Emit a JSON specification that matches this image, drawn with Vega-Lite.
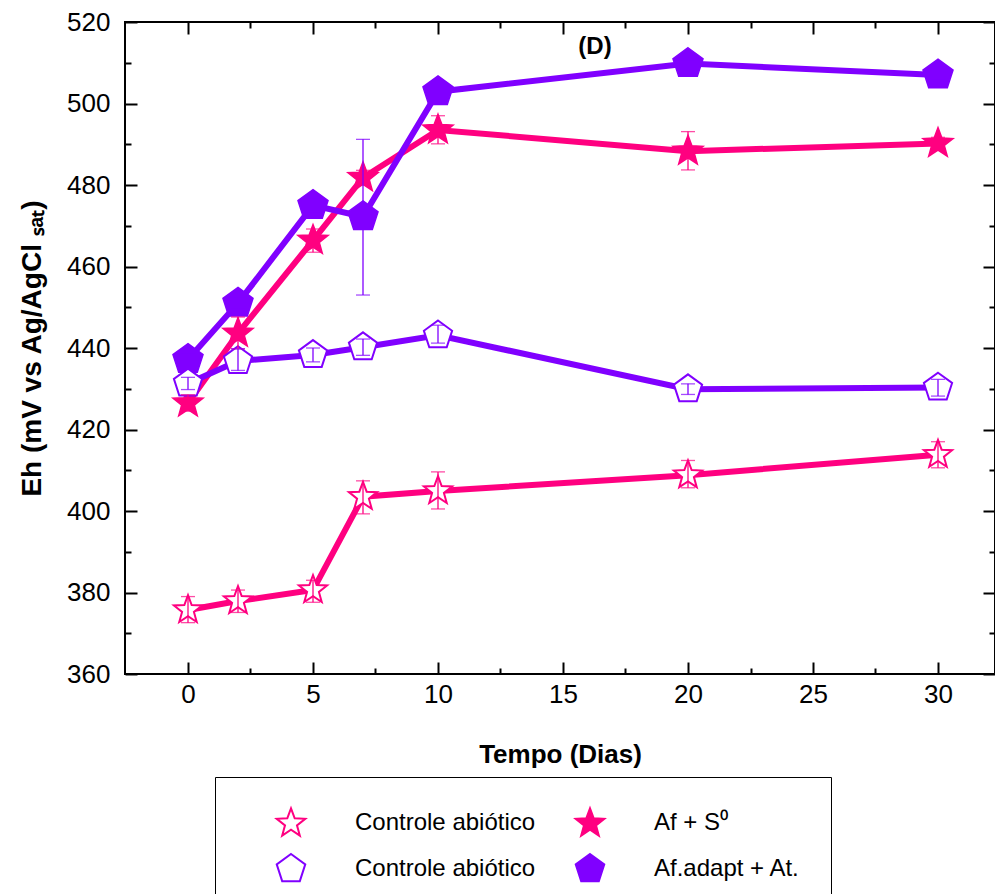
{
  "$schema": "https://vega.github.io/schema/vega-lite/v6.json",
  "width": 870,
  "height": 652,
  "autosize": {"type": "none"},
  "padding": {"left": 125, "top": 22, "right": 0, "bottom": 220},
  "title": {"text": "(D)", "fontSize": 24, "fontWeight": "bold", "font": "Liberation Sans", "anchor": "middle", "dx": 35, "offset": -50, "color": "black"},
  "config": {
    "font": "Liberation Sans",
    "view": {"stroke": "black", "strokeWidth": 2},
    "axis": {
      "domain": false,
      "grid": false,
      "tickColor": "black",
      "tickWidth": 2,
      "labelColor": "black",
      "labelFontSize": 26,
      "labelFont": "Liberation Sans",
      "titleColor": "black",
      "titleFontSize": 26,
      "titleFontWeight": "bold",
      "titleFont": "Liberation Sans"
    },
    "legend": {
      "orient": "none",
      "direction": "horizontal",
      "legendX": 90,
      "legendY": 755,
      "columns": 2,
      "labelFontSize": 24,
      "labelFont": "Liberation Sans",
      "labelColor": "black",
      "symbolSize": 900,
      "symbolStrokeWidth": 2,
      "symbolOffset": 30,
      "labelOffset": 48,
      "strokeColor": "black",
      "padding": 30,
      "rowPadding": 10,
      "columnPadding": 8,
      "labelLimit": 400
    }
  },
  "data": {
    "values": [
      {"t": 0, "s": "A", "eh": 375.7, "lo": 372.6, "hi": 379.0},
      {"t": 2, "s": "A", "eh": 377.9, "lo": 375.1, "hi": 380.6},
      {"t": 5, "s": "A", "eh": 380.6, "lo": 377.6, "hi": 383.0},
      {"t": 7, "s": "A", "eh": 403.5, "lo": 399.3, "hi": 407.4},
      {"t": 10, "s": "A", "eh": 404.9, "lo": 400.5, "hi": 409.6},
      {"t": 20, "s": "A", "eh": 408.8, "lo": 405.7, "hi": 412.4},
      {"t": 30, "s": "A", "eh": 413.8, "lo": 410.6, "hi": 417.0},
      {"t": 0, "s": "B", "eh": 426.5, "lo": 424.5, "hi": 428.5},
      {"t": 2, "s": "B", "eh": 443.6, "lo": 439.8, "hi": 447.6},
      {"t": 5, "s": "B", "eh": 466.4, "lo": 463.5, "hi": 469.2},
      {"t": 7, "s": "B", "eh": 481.8, "lo": 480.0, "hi": 483.6},
      {"t": 10, "s": "B", "eh": 493.5, "lo": 490.1, "hi": 497.0},
      {"t": 20, "s": "B", "eh": 488.3, "lo": 483.7, "hi": 493.1},
      {"t": 30, "s": "B", "eh": 490.2, "lo": 488.7, "hi": 491.7},
      {"t": 0, "s": "C", "eh": 431.3, "lo": 429.8, "hi": 432.8},
      {"t": 2, "s": "C", "eh": 436.8, "lo": 434.5, "hi": 439.8},
      {"t": 5, "s": "C", "eh": 438.3, "lo": 436.6, "hi": 440.0},
      {"t": 7, "s": "C", "eh": 440.2, "lo": 438.2, "hi": 442.2},
      {"t": 10, "s": "C", "eh": 443.1, "lo": 441.2, "hi": 445.6},
      {"t": 20, "s": "C", "eh": 429.9, "lo": 428.6, "hi": 431.2},
      {"t": 30, "s": "C", "eh": 430.3, "lo": 428.2, "hi": 432.3},
      {"t": 0, "s": "D", "eh": 437.2, "lo": 436.0, "hi": 438.4},
      {"t": 2, "s": "D", "eh": 451.0, "lo": 449.5, "hi": 452.5},
      {"t": 5, "s": "D", "eh": 475.0, "lo": 473.5, "hi": 476.5},
      {"t": 7, "s": "D", "eh": 472.2, "lo": 453.0, "hi": 491.2},
      {"t": 10, "s": "D", "eh": 502.9, "lo": 501.8, "hi": 504.0},
      {"t": 20, "s": "D", "eh": 509.8, "lo": 508.8, "hi": 510.8},
      {"t": 30, "s": "D", "eh": 507.0, "lo": 506.0, "hi": 508.0}
    ]
  },
  "resolve": {"axis": {"x": "independent", "y": "independent"}},
  "layer": [
    {
      "mark": {"type": "line", "strokeWidth": 6},
      "encoding": {
        "x": {"field": "t", "type": "quantitative", "scale": {"domain": [-2.52, 32.28], "nice": false, "zero": false},
              "axis": {"orient": "bottom", "values": [0, 5, 10, 15, 20, 25, 30], "tickSize": -12, "labelPadding": 19, "title": "Tempo (Dias)", "titlePadding": 34}},
        "y": {"field": "eh", "type": "quantitative", "scale": {"domain": [360, 520], "nice": false, "zero": false},
              "axis": {"orient": "left", "values": [360, 380, 400, 420, 440, 460, 480, 500, 520], "tickSize": -12, "labelPadding": 27, "title": "Eh (mV vs Ag/AgCl ₛₐₜ)", "titlePadding": 20, "titleFontSize": 28}},
        "stroke": {"field": "s", "type": "nominal", "scale": {"domain": ["A", "B", "C", "D"], "range": ["#ff0080", "#ff0080", "#8000ff", "#8000ff"]},
                   "legend": {"title": null,
                              "labelExpr": "{'A': 'Controle abiótico', 'B': 'Af + S⁰', 'C': 'Controle abiótico', 'D': 'Af.adapt + At.'}[datum.label]"}}
      }
    },
    {
      "transform": [{"filter": "datum.s === 'B' || datum.s === 'D'"}],
      "mark": {"type": "point", "size": 1000, "strokeWidth": 1.5, "opacity": 1},
      "encoding": {
        "x": {"field": "t", "type": "quantitative",
              "axis": {"orient": "bottom", "values": [2.5, 7.5, 12.5, 17.5, 22.5, 27.5], "tickSize": -6, "labels": false, "title": null}},
        "y": {"field": "eh", "type": "quantitative",
              "axis": {"orient": "left", "values": [370, 390, 410, 430, 450, 470, 490, 510], "tickSize": -6, "labels": false, "title": null}},
        "stroke": {"field": "s", "type": "nominal"},
        "fill": {"field": "s", "type": "nominal", "scale": {"domain": ["A", "B", "C", "D"], "range": ["white", "#ff0080", "white", "#8000ff"]}},
        "shape": {"field": "s", "type": "nominal", "scale": {"domain": ["A", "B", "C", "D"], "range": [
            "M0,-1L0.247,-0.34L0.951,-0.309L0.399,0.13L0.588,0.809L0,0.42L-0.588,0.809L-0.399,0.13L-0.951,-0.309L-0.247,-0.34Z",
            "M0,-1L0.247,-0.34L0.951,-0.309L0.399,0.13L0.588,0.809L0,0.42L-0.588,0.809L-0.399,0.13L-0.951,-0.309L-0.247,-0.34Z",
            "M0,-1L0.951,-0.309L0.588,0.809L-0.588,0.809L-0.951,-0.309Z",
            "M0,-1L0.951,-0.309L0.588,0.809L-0.588,0.809L-0.951,-0.309Z"]}}
      }
    },
    {
      "transform": [{"filter": "datum.s === 'A' || datum.s === 'C'"}],
      "mark": {"type": "point", "size": 880, "strokeWidth": 2, "opacity": 1},
      "encoding": {
        "x": {"field": "t", "type": "quantitative",
              "axis": {"orient": "top", "values": [0, 5, 10, 15, 20, 25, 30], "tickSize": -12, "labels": false, "title": null}},
        "y": {"field": "eh", "type": "quantitative",
              "axis": {"orient": "right", "values": [360, 380, 400, 420, 440, 460, 480, 500, 520], "tickSize": -12, "labels": false, "title": null}},
        "stroke": {"field": "s", "type": "nominal"},
        "fill": {"field": "s", "type": "nominal"},
        "shape": {"field": "s", "type": "nominal"}
      }
    },
    {
      "mark": {"type": "errorbar", "ticks": true, "size": 14, "thickness": 1.3},
      "encoding": {
        "x": {"field": "t", "type": "quantitative",
              "axis": {"orient": "top", "values": [2.5, 7.5, 12.5, 17.5, 22.5, 27.5], "tickSize": -6, "labels": false, "title": null}},
        "y": {"field": "lo", "type": "quantitative",
              "axis": {"orient": "right", "values": [370, 390, 410, 430, 450, 470, 490, 510], "tickSize": -6, "labels": false, "title": null}},
        "y2": {"field": "hi"},
        "color": {"field": "s", "type": "nominal", "scale": {"domain": ["A", "B", "C", "D"], "range": ["#ff0080", "#ff0080", "#8000ff", "#8000ff"]}, "legend": null}
      }
    }
  ]
}
